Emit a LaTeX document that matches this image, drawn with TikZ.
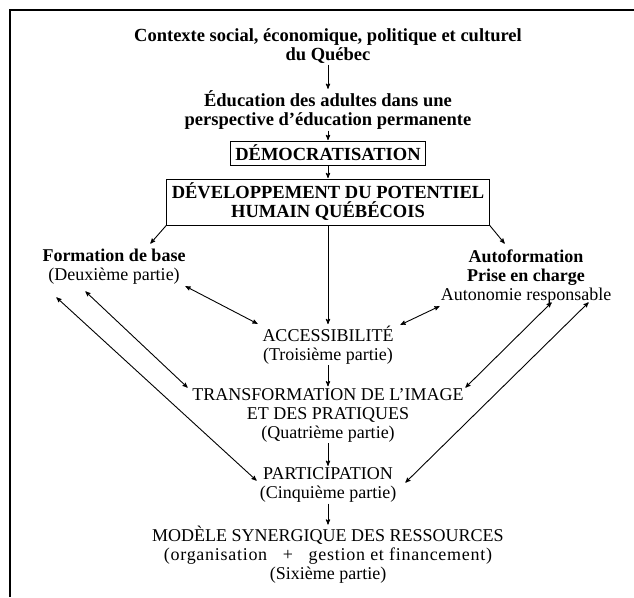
\documentclass[tikz,border=0pt]{standalone}
\usepackage{fontspec}
\setmainfont{Liberation Serif}
\usetikzlibrary{arrows}

\begin{document}
\begin{tikzpicture}[x=1pt,y=-1pt,>=stealth',shorten >=0.5pt,
        every node/.style={align=center,inner sep=1pt},
        head/.style={font=\fontsize{18.5}{19}\selectfont\bfseries},
        box/.style={head,draw,line width=0.8pt,inner xsep=5pt,inner ysep=4pt},
        part/.style={font=\fontsize{18}{19}\selectfont}]
        \useasboundingbox (0,0) rectangle (634,597);
        \draw[line width=1.6pt] (10,597) -- (10,10) -- (634,10);
        % central column
        \node[head] (ctx) at (328,46) {Contexte social, économique, politique et culturel\\du Québec};
        \node[head] (edu) at (328,110) {Éducation des adultes dans une\\perspective d'éducation permanente};
        \node[box] (demo) at (328,153) {DÉMOCRATISATION};
        \node[box] (dev) at (328,202) {DÉVELOPPEMENT DU POTENTIEL\\HUMAIN QUÉBÉCOIS};
        \node[part] (acc) at (328,345) {ACCESSIBILITÉ\\(Troisième partie)};
        \node[part] (trans) at (328,415) {TRANSFORMATION DE L'IMAGE\\ET DES PRATIQUES\\(Quatrième partie)};
        \node[part] (part) at (328,485) {PARTICIPATION\\(Cinquième partie)};
        \node[part] (mod) at (328,555) {MODÈLE SYNERGIQUE DES RESSOURCES\\{\addfontfeature{LetterSpace=4}(organisation \ \ + \ \ gestion et financement)}\\(Sixième partie)};
        % side nodes
        \node[part] (form) at (114,267) {\textbf{Formation de base}\\(Deuxième partie)};
        \node[part] (auto) at (526,277) {\textbf{Autoformation}\\\textbf{Prise en charge}\\Autonomie responsable};
        \path[->,line width=0.9pt]
        (ctx) edge (edu)
        (edu) edge (demo)
        (demo) edge (dev)
        (dev) edge (acc)
        (acc) edge (trans)
        (trans) edge (part)
        (part) edge (mod)
        (dev.south west) edge ([shift={(36,-23)}]form.center)
        (dev.south east) edge ([shift={(-21,-33)}]auto.center)
        ;
        \path[<->,line width=0.9pt,shorten <=0.5pt]
        ([shift={(71,19)}]form.center) edge ([shift={(-70,-21)}]acc.center)
        ([shift={(72,-20)}]acc.center) edge ([shift={(-86,29)}]auto.center)
        ([shift={(-29,24)}]form.center) edge ([shift={(-140,-27)}]trans.center)
        ([shift={(-58,30)}]form.center) edge ([shift={(-71,-4)}]part.center)
        ([shift={(137,-27)}]trans.center) edge ([shift={(26,25)}]auto.center)
        ([shift={(77,-2)}]part.center) edge ([shift={(63,25)}]auto.center)
        ;
\end{tikzpicture}
\end{document}
